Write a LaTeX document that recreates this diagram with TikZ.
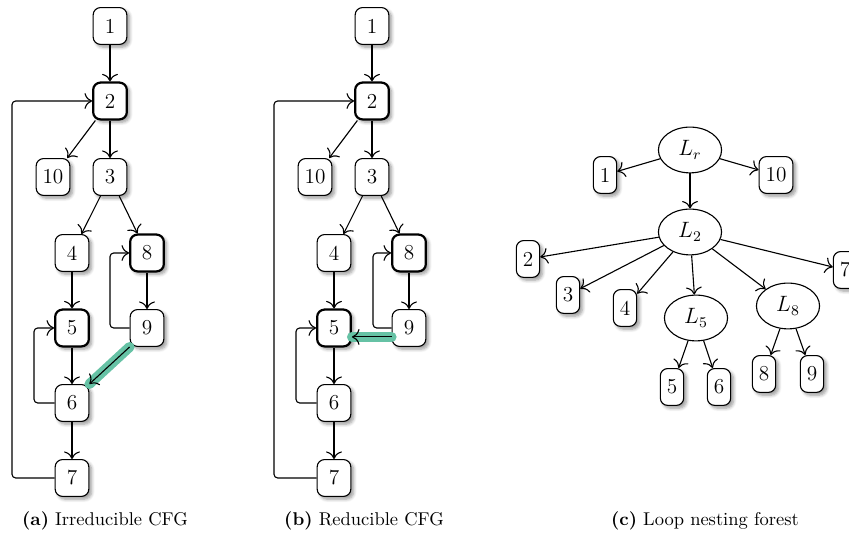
\documentclass[tikz,border=0pt]{standalone}
\usetikzlibrary{shapes,shapes.geometric,arrows.meta}
\usetikzlibrary{positioning,backgrounds,shadows.blur}
\definecolor{hlgreen}{HTML}{66C2A5}
\tikzset{
  bb/.style={draw, rounded corners=4pt, fill=white, minimum width=0.64cm,
    minimum height=0.7cm, inner sep=2pt, line width=0.6pt,
    blur shadow={shadow xshift=1.5pt, shadow yshift=-1.5pt, shadow blur steps=6},
    font=\fontsize{11.5}{13}\selectfont},
  hdr/.style={bb, line width=1.2pt},
  leaf/.style={bb, minimum width=0pt, inner xsep=3.5pt},
  loopnode/.style={ellipse, draw, fill=white, minimum width=1.2cm,
    minimum height=0.87cm, inner sep=1pt, line width=0.6pt,
    font=\fontsize{11.5}{13}\selectfont},
  edge/.style={-{To[scale=1.4]}, line width=0.6pt},
  backedge/.style={edge, rounded corners=2pt},
  hl/.style={line width=0.19cm, hlgreen, line cap=round}
}

\begin{document}
\begin{tikzpicture}
\useasboundingbox (0,0) rectangle (16.131,10.412);

% (a) irreducible CFG
\node[bb]  (a1)  at (2.09,9.918)  {1};
\node[hdr] (a2)  at (2.09,8.493)  {2};
\node[bb]  (a10) at (1.007,7.049) {10};
\node[bb]  (a3)  at (2.09,7.049)  {3};
\node[bb]  (a4)  at (1.368,5.605) {4};
\node[hdr] (a8)  at (2.793,5.605) {8};
\node[hdr] (a5)  at (1.368,4.18)  {5};
\node[bb]  (a9)  at (2.793,4.18)  {9};
\node[bb]  (a6)  at (1.368,2.755) {6};
\node[bb]  (a7)  at (1.368,1.33)  {7};
\draw[edge] (a1) -- (a2);
\draw[edge] (a2) -- (a10);
\draw[edge] (a2) -- (a3);
\draw[edge] (a3) -- (a4);
\draw[edge] (a3) -- (a8);
\draw[edge] (a4) -- (a5);
\draw[edge] (a8) -- (a9);
\draw[edge] (a5) -- (a6);
\draw[edge] (a6) -- (a7);
\draw[backedge] (a9.west) -| (2.09,5.605) -- (a8.west);
\draw[backedge] (a6.west) -| (0.646,4.18) -- (a5.west);
\draw[backedge] (a7.west) -| (0.228,8.493) -- (a2.west);
\draw[hl] (a9.south west) -- (a6.north east);
\draw[edge] (a9.south west) -- (a6.north east);

% (b) reducible CFG
\node[bb]  (b1)  at (7.068,9.918)  {1};
\node[hdr] (b2)  at (7.068,8.493)  {2};
\node[bb]  (b10) at (5.985,7.049)  {10};
\node[bb]  (b3)  at (7.068,7.049)  {3};
\node[bb]  (b4)  at (6.346,5.605)  {4};
\node[hdr] (b8)  at (7.771,5.605)  {8};
\node[hdr] (b5)  at (6.346,4.18)   {5};
\node[bb]  (b9)  at (7.771,4.18)   {9};
\node[bb]  (b6)  at (6.346,2.755)  {6};
\node[bb]  (b7)  at (6.346,1.33)   {7};
\draw[edge] (b1) -- (b2);
\draw[edge] (b2) -- (b10);
\draw[edge] (b2) -- (b3);
\draw[edge] (b3) -- (b4);
\draw[edge] (b3) -- (b8);
\draw[edge] (b4) -- (b5);
\draw[edge] (b8) -- (b9);
\draw[edge] (b5) -- (b6);
\draw[edge] (b6) -- (b7);
\draw[backedge] (b9.west) -| (7.087,5.605) -- (b8.west);
\draw[backedge] (b6.west) -| (5.624,4.18) -- (b5.west);
\draw[backedge] (b7.west) -| (5.206,8.493) -- (b2.west);
\draw[hl] ([yshift=-0.17cm]b9.west) -- ([yshift=-0.17cm]b5.east);
\draw[edge] ([yshift=-0.17cm]b9.west) -- ([yshift=-0.17cm]b5.east);

% (c) loop nesting forest
\node[loopnode] (Lr) at (13.11,7.562) {$L_r$};
\node[loopnode] (L2) at (13.11,6.004) {$L_2$};
\node[loopnode] (L5) at (13.224,4.37) {$L_5$};
\node[loopnode] (L8) at (14.972,4.598) {$L_8$};
\node[leaf] (c1)  at (11.495,7.087) {1};
\node[leaf] (c10) at (14.744,7.087) {10};
\node[leaf] (c2)  at (10.032,5.491) {2};
\node[leaf] (c3)  at (10.792,4.807) {3};
\node[leaf] (c4)  at (11.875,4.56)  {4};
\node[leaf] (c7)  at (16.055,5.282) {7};
\node[leaf] (c5)  at (12.768,3.059) {5};
\node[leaf] (c6)  at (13.661,3.059) {6};
\node[leaf] (c8)  at (14.516,3.306) {8};
\node[leaf] (c9)  at (15.428,3.306) {9};
\draw[edge] (Lr) -- (c1);
\draw[edge] (Lr) -- (c10);
\draw[edge] (Lr) -- (L2);
\draw[edge] (L2) -- (c2);
\draw[edge] (L2) -- (c3);
\draw[edge] (L2) -- (c4);
\draw[edge] (L2) -- (L5);
\draw[edge] (L2) -- (L8);
\draw[edge] (L2) -- (c7);
\draw[edge] (L5) -- (c5);
\draw[edge] (L5) -- (c6);
\draw[edge] (L8) -- (c8);
\draw[edge] (L8) -- (c9);

% captions
\node (capa) at (1.995,0.513)  {\textbf{(a)} Irreducible CFG};
\node (capb) at (6.916,0.513)  {\textbf{(b)} Reducible CFG};
\node (capc) at (13.395,0.513) {\textbf{(c)} Loop nesting forest};
\end{tikzpicture}
\end{document}
